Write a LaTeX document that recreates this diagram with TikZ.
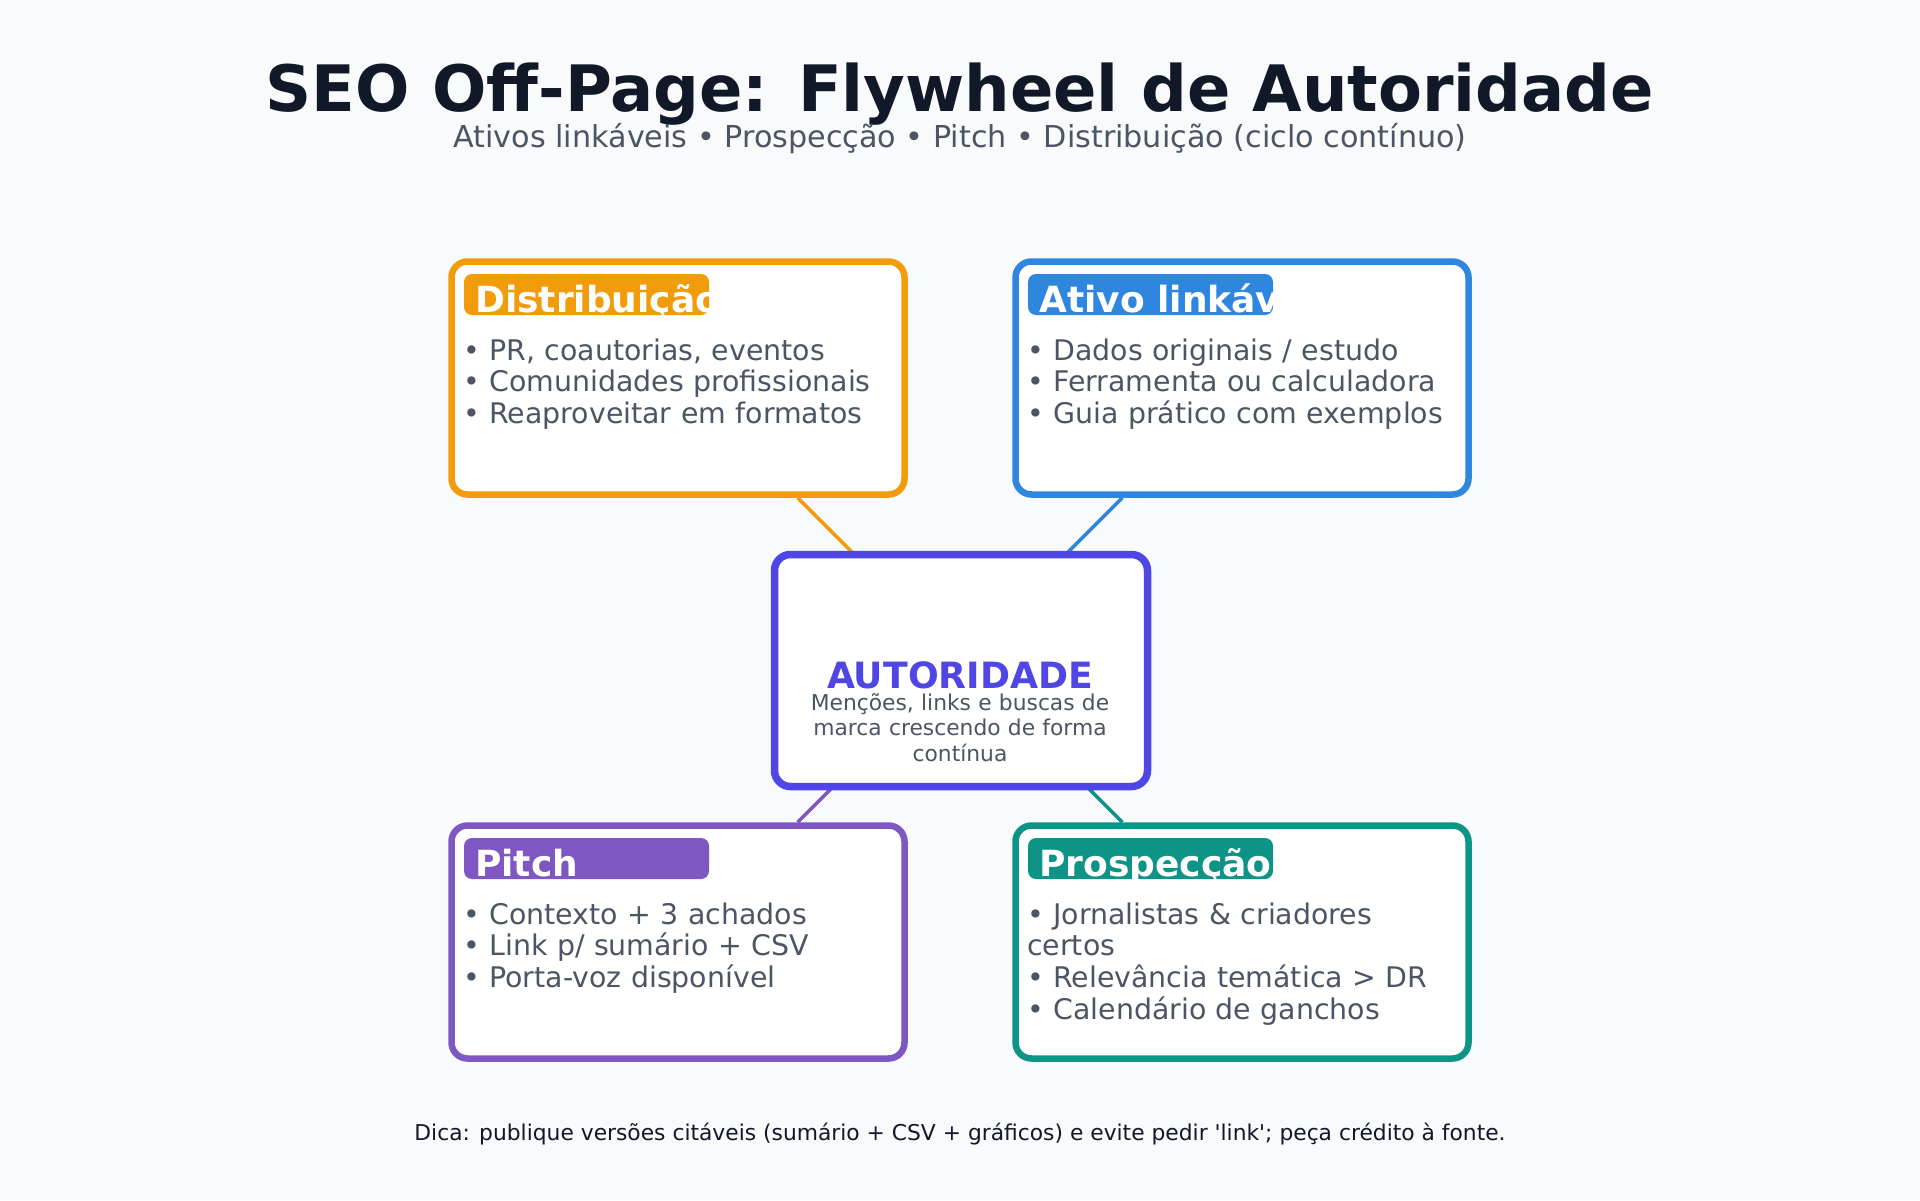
\documentclass[tikz,border=0pt]{standalone}
\usepackage{fontspec}
\setmainfont{DejaVu Sans}[Ligatures=TeXOff]
\usetikzlibrary{calc}

\definecolor{pagebg}{HTML}{F8FAFC}
\definecolor{inkdark}{HTML}{111827}
\definecolor{inkgray}{HTML}{4B5563}
\definecolor{distcol}{HTML}{F39C0B}
\definecolor{ativocol}{HTML}{2F86DE}
\definecolor{pitchcol}{HTML}{7E57C2}
\definecolor{prospcol}{HTML}{0E9486}
\definecolor{hubcol}{HTML}{4F46E5}

\begin{document}
\begin{tikzpicture}[x=1pt,y=-1pt,
  card/.style={draw=#1,line width=6.5pt,fill=white,rounded corners=16pt,
    minimum width=453pt,minimum height=233pt,inner sep=0pt},
  link/.style={draw=#1,line width=3.5pt},
  tagbox/.style={fill=#1,rounded corners=8pt},
  head/.style={anchor=base west,inner sep=0pt,text=white,
    font=\fontsize{36}{41}\selectfont\bfseries},
  items/.style={anchor=base west,inner sep=0pt,text width=440pt,align=left,
    text=inkgray,font=\fontsize{28.4}{31.7}\selectfont}]
  \fill [pagebg] (0,0) rectangle (1920,1200); % page
  \useasboundingbox (0,0) rectangle (1920,1200);

  \node [anchor=base,inner sep=0pt,text=inkdark,font=\fontsize{64}{70}\selectfont\bfseries] (title) at (960,111)
    {SEO Off-Page: Flywheel de Autoridade};
  \node [anchor=base,inner sep=0pt,text=inkgray,font=\fontsize{30.2}{34}\selectfont] (subtitle) at (960,147)
    {Ativos linkáveis • Prospecção • Pitch • Distribuição (ciclo contínuo)};

  % cards
  \node [card=distcol] (dist) at (678,378) {};
  \node [card=ativocol] (ativo) at (1242,378) {};
  \node [card=pitchcol] (pitch) at (678,942) {};
  \node [card=prospcol] (prosp) at (1242,942) {};

  % spokes, meeting behind the hub
  \coordinate (core) at (960,660);
  \draw [link=distcol] (dist) -- (core);
  \draw [link=ativocol] (ativo) -- (core);
  \draw [link=pitchcol] (pitch) -- (core);
  \draw [link=prospcol] (prosp) -- (core);

  \node [card=hubcol,line width=7.5pt,minimum width=373pt,minimum height=232pt] (hub) at (961,670.5) {};

  % headers, cut to their tags
  \fill [tagbox=distcol] ($(dist.center)+(-214,-104)$) rectangle +(245,41);
  \begin{scope}
    \clip [rounded corners=8pt] ($(dist.center)+(-214,-104)$) rectangle +(245,41);
    \node [head] (distH) at ($(dist.center)+(-203,-66)$) {Distribuição};
  \end{scope}
  \fill [tagbox=ativocol] ($(ativo.center)+(-214,-104)$) rectangle +(245,41);
  \begin{scope}
    \clip [rounded corners=8pt] ($(ativo.center)+(-214,-104)$) rectangle +(245,41);
    \node [head] (ativoH) at ($(ativo.center)+(-203,-66)$) {Ativo linkável};
  \end{scope}
  \fill [tagbox=pitchcol] ($(pitch.center)+(-214,-104)$) rectangle +(245,41);
  \begin{scope}
    \clip [rounded corners=8pt] ($(pitch.center)+(-214,-104)$) rectangle +(245,41);
    \node [head] (pitchH) at ($(pitch.center)+(-203,-66)$) {Pitch};
  \end{scope}
  \fill [tagbox=prospcol] ($(prosp.center)+(-214,-104)$) rectangle +(245,41);
  \begin{scope}
    \clip [rounded corners=8pt] ($(prosp.center)+(-214,-104)$) rectangle +(245,41);
    \node [head] (prospH) at ($(prosp.center)+(-203,-66)$) {Prospecção};
  \end{scope}

  % bullets
  \node [items] (distL) at ($(dist.center)+(-215,-18)$)
    {• PR, coautorias, eventos\\• Comunidades profissionais\\• Reaproveitar em formatos};
  \node [items] (ativoL) at ($(ativo.center)+(-215,-18)$)
    {• Dados originais / estudo\\• Ferramenta ou calculadora\\• Guia prático com exemplos};
  \node [items] (pitchL) at ($(pitch.center)+(-215,-18)$)
    {• Contexto + 3 achados\\• Link p/ sumário + CSV\\• Porta-voz disponível};
  \node [items] (prospL) at ($(prosp.center)+(-215,-18)$)
    {• Jornalistas \& criadores\\certos\\• Relevância temática > DR\\• Calendário de ganchos};

  % hub text
  \node [anchor=base,inner sep=0pt,text=hubcol,font=\fontsize{36.2}{41}\selectfont\bfseries] (hubT) at (960,688)
    {AUTORIDADE};
  \node [anchor=base,inner sep=0pt,text width=340pt,align=center,text=inkgray,
    font=\fontsize{21.8}{25.8}\selectfont] (hubS) at (960,710)
    {Menções, links e buscas de\\marca crescendo de forma\\contínua};

  \node [anchor=base,inner sep=0pt,text=inkdark,font=\fontsize{21.8}{25}\selectfont] (tip) at (960,1140)
    {Dica: publique versões citáveis (sumário + CSV + gráficos) e evite pedir 'link'; peça crédito à fonte.};
\end{tikzpicture}
\end{document}
